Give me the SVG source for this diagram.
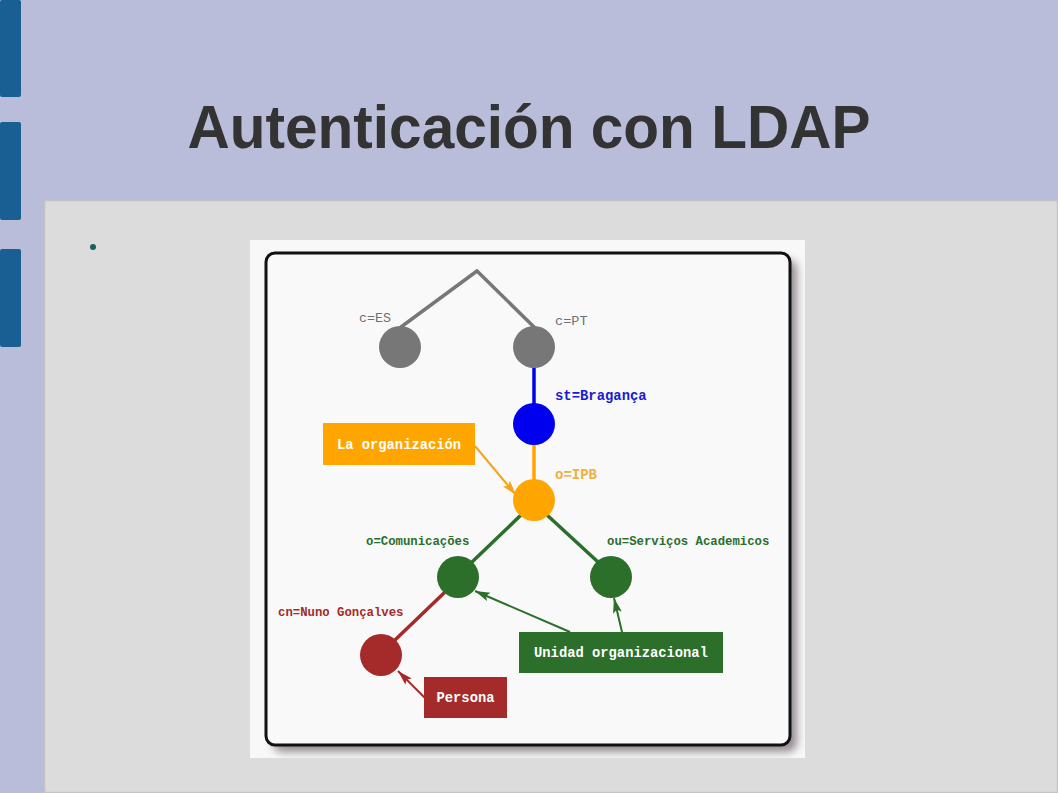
<svg xmlns="http://www.w3.org/2000/svg" width="1058" height="793" viewBox="0 0 1058 793">
<defs>
<style>
.mono{font-family:"Liberation Mono","Courier New",monospace;font-weight:bold}
.thin{font-weight:normal}
.lbl{font-size:12.3px}
.box{font-size:13.8px;fill:#ffffff}
.edge{stroke-width:3.5;fill:none;stroke-linecap:round}
.arr{stroke-width:2;fill:none}
</style>
<marker id="mo" markerUnits="userSpaceOnUse" markerWidth="16" markerHeight="10" refX="15" refY="5" orient="auto"><path d="M0,0.5 L15,5 L0,9.5 L3,5 z" fill="#f2a51c"/></marker>
<marker id="mg" markerUnits="userSpaceOnUse" markerWidth="16" markerHeight="10" refX="15" refY="5" orient="auto"><path d="M0,0.5 L15,5 L0,9.5 L3,5 z" fill="#2b6f2b"/></marker>
<marker id="mr" markerUnits="userSpaceOnUse" markerWidth="16" markerHeight="10" refX="15" refY="5" orient="auto"><path d="M0,0.5 L15,5 L0,9.5 L3,5 z" fill="#a52a2a"/></marker>
<filter id="sh" x="-10%" y="-10%" width="120%" height="120%"><feGaussianBlur stdDeviation="4"/></filter>
<clipPath id="imgclip"><rect x="250" y="240" width="555" height="518"/></clipPath>
</defs>

<g id="slide">
<rect x="0" y="0" width="1058" height="793" fill="#b9bdd9"/>
<rect x="0" y="0" width="21" height="97" rx="2" fill="#1a5f94"/>
<rect x="0" y="122" width="21" height="98" rx="2" fill="#1a5f94"/>
<rect x="0" y="249" width="21" height="98" rx="2" fill="#1a5f94"/>
<rect x="44.5" y="200.5" width="1013" height="592" fill="#dcdcdc" stroke="#c4c4c4" stroke-width="1.5"/>
<text x="529" y="148" text-anchor="middle" font-family="'Liberation Sans',Arial,sans-serif" font-weight="bold" font-size="62" fill="#333333" textLength="683" lengthAdjust="spacingAndGlyphs">Autenticación con LDAP</text>
<circle cx="93" cy="247" r="3" fill="#17615a"/>
</g>

<g id="picture">
<rect x="250" y="240" width="555" height="518" fill="#f8f8f8"/>
<g clip-path="url(#imgclip)">
<rect x="273" y="260" width="524" height="492" rx="9" fill="#948b92" filter="url(#sh)"/>
</g>
<rect x="266" y="253" width="524" height="492" rx="9" fill="#f9f9f9" stroke="#111111" stroke-width="3"/>
</g>

<g id="connectors">
<line class="edge" x1="477" y1="271" x2="401" y2="327" stroke="#777777"/>
<line class="edge" x1="477" y1="271" x2="534" y2="327" stroke="#777777"/>
<line class="edge" x1="534" y1="366" x2="534" y2="405" stroke="#0000ee"/>
<line class="edge" x1="534" y1="444" x2="534" y2="481" stroke="#ffa500"/>
<line class="edge" x1="521" y1="515" x2="471" y2="563" stroke="#2b6f2b"/>
<line class="edge" x1="547" y1="515" x2="598" y2="562" stroke="#2b6f2b"/>
<line class="edge" x1="444" y1="593" x2="395" y2="640" stroke="#a52a2a"/>
<line class="arr" x1="475" y1="446" x2="516" y2="495" stroke="#f2a51c" marker-end="url(#mo)"/>
<line class="arr" x1="570" y1="632" x2="475" y2="591" stroke="#2b6f2b" marker-end="url(#mg)"/>
<line class="arr" x1="622" y1="632" x2="614" y2="598" stroke="#2b6f2b" marker-end="url(#mg)"/>
<line class="arr" x1="425" y1="698" x2="398" y2="671" stroke="#a52a2a" marker-end="url(#mr)"/>
</g>

<g id="node-c-ES">
<circle cx="400" cy="347" r="21" fill="#777777"/>
<text class="mono thin" x="359" y="322" font-size="13.3" fill="#707070">c=ES</text>
</g>
<g id="node-c-PT">
<circle cx="534" cy="347" r="21" fill="#777777"/>
<text class="mono thin" x="555" y="325" font-size="13.6" fill="#707070">c=PT</text>
</g>
<g id="node-st">
<circle cx="534" cy="424" r="21" fill="#0000ee"/>
<text class="mono" x="555" y="400" font-size="13.9" fill="#1a1ad0">st=Bragança</text>
</g>
<g id="node-o-IPB">
<circle cx="534" cy="500" r="21" fill="#ffa500"/>
<text class="mono" x="555" y="479" font-size="14" fill="#f0b040">o=IPB</text>
</g>
<g id="node-o-com">
<circle cx="458" cy="577" r="21" fill="#2b6f2b"/>
<text class="mono lbl" x="366" y="545" fill="#2b6f2b">o=Comunicações</text>
</g>
<g id="node-ou">
<circle cx="611" cy="577" r="21" fill="#2b6f2b"/>
<text class="mono lbl" x="607" y="545" fill="#2b6f2b">ou=Serviços Academicos</text>
</g>
<g id="node-cn">
<circle cx="381" cy="655" r="21" fill="#a52a2a"/>
<text class="mono lbl" x="278" y="616" fill="#a52a2a">cn=Nuno Gonçalves</text>
</g>

<g id="box-organizacion">
<rect x="323" y="423" width="152" height="42" fill="#ffa500"/>
<text class="mono box" x="399" y="449" text-anchor="middle">La organización</text>
</g>
<g id="box-unidad">
<rect x="519" y="632" width="204" height="41" fill="#2b6f2b"/>
<text class="mono box" x="621" y="657" text-anchor="middle">Unidad organizacional</text>
</g>
<g id="box-persona">
<rect x="424" y="677" width="83" height="41" fill="#a52a2a"/>
<text class="mono box" x="465.5" y="702" text-anchor="middle">Persona</text>
</g>
</svg>
